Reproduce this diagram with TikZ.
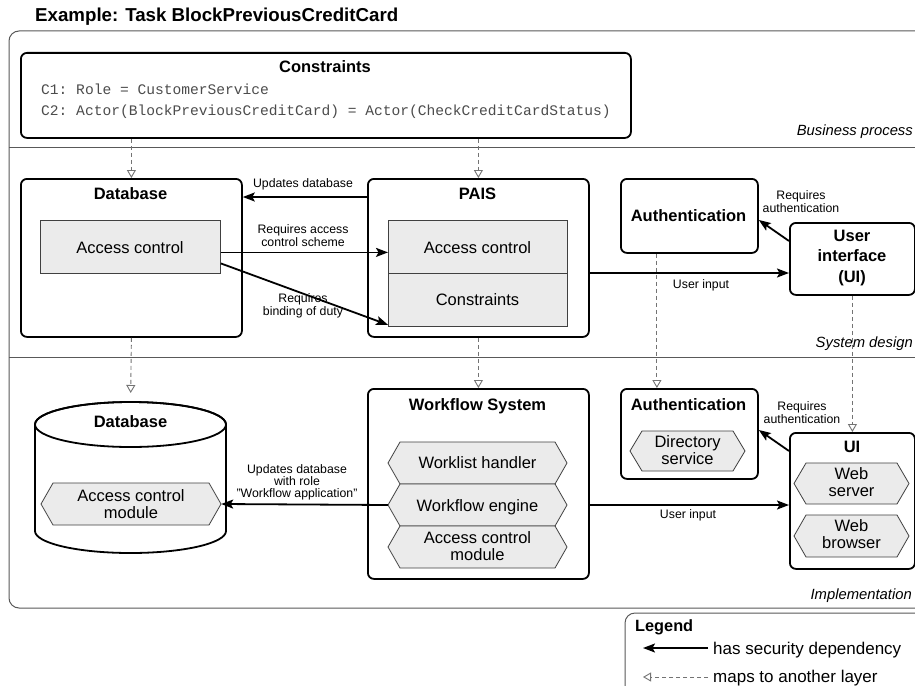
\documentclass[tikz,border=0pt]{standalone}
\usepackage{fontspec}
\setmainfont{Liberation Sans}
\setmonofont{Liberation Mono}
\usetikzlibrary{arrows.meta,calc}
\newcommand{\fTitle}{\fontsize{18.7}{22}\selectfont}
\newcommand{\fBox}{\fontsize{16.5}{16.5}\selectfont}
\newcommand{\fBoxB}{\fontsize{16.5}{20.5}\selectfont\bfseries}
\newcommand{\fSmall}{\fontsize{12.3}{13}\selectfont}
\newcommand{\fSmallT}{\fontsize{12.3}{12}\selectfont}
\newcommand{\fLayer}{\fontsize{14.8}{17}\selectfont\itshape}
\newcommand{\fMono}{\fontsize{14.6}{17}\selectfont\ttfamily}
\newcommand{\fLeg}{\fontsize{17}{20}\selectfont}
\newcommand{\hexa}[6]{%
  \path[hexline] (#2,{(#3+#5)/2}) -- (#2+12,#3) -- (#4-12,#3) -- (#4,{(#3+#5)/2}) -- (#4-12,#5) -- (#2+12,#5) -- cycle;
  \node[hexbox, minimum width={(#4-#2)*1pt}, minimum height={(#5-#3)*1pt}] (#1) at ({(#2+#4)/2},{(#3+#5)/2}) {};}
\begin{document}
\begin{tikzpicture}[x=1pt,y=-1pt,
  box/.style={draw, line width=1.8pt, rounded corners=6pt, fill=white, anchor=north west, inner sep=0pt},
  part/.style={draw=black!75, line width=0.8pt, fill=black!8, anchor=north west, inner sep=0pt},
  hexline/.style={draw=black!75, line width=0.8pt, fill=black!8},
  hexbox/.style={inner sep=0pt, draw=none},
  txt/.style={inner sep=0pt, anchor=base, font=\fBox},
  mtxt/.style={inner sep=0pt, anchor=base, align=center, font=\fBox},
  ttl/.style={inner sep=0pt, anchor=base, font=\fBoxB},
  lbl/.style={inner sep=0pt, anchor=base, align=center, font=\fSmall},
  layer/.style={inner sep=0pt, anchor=base east, font=\fLayer},
  frame/.style={draw=black!65, line width=1pt, rounded corners=10pt},
  dep/.style={-{Stealth[length=12pt,width=9pt,inset=2.5pt]}, line width=1.8pt},
  map/.style={-{Triangle[open,length=8pt,width=9pt,line width=0.9pt]}, draw=black!55, line width=0.9pt, dash pattern=on 4pt off 3pt},
]
\clip (0,0) rectangle (915,685);
\fill[white] (0,0) rectangle (915,685);

% title and frames
\node[inner sep=0pt, anchor=base west, font=\fTitle\bfseries] (title) at (35,22) {Example: Task BlockPreviousCreditCard};
\draw[frame] (9,31) rectangle (940,608);
\draw[draw=black!65, line width=1pt] (9,147) coordinate (s1a) -- (915,147) coordinate (s1b);
\draw[draw=black!65, line width=1pt] (9,357) coordinate (s2a) -- (915,357) coordinate (s2b);
\node[layer] (lbp) at (913,135) {Business process};
\node[layer] (lsd) at (913,347) {System design};
\node[layer] (lim) at (912,599) {Implementation};

% business process
\node[box, minimum width=610pt, minimum height=85pt] (cons) at (20,52) {};
\node[ttl] (consT) at (325,73) {Constraints};
\node[inner sep=0pt, anchor=base west, font=\fMono, text=black!70] (c1) at (41,94) {C1: Role = CustomerService};
\node[inner sep=0pt, anchor=base west, font=\fMono, text=black!70] (c2) at (41,115) {C2: Actor(BlockPreviousCreditCard) = Actor(CheckCreditCardStatus)};

% system design
\node[box, minimum width=221pt, minimum height=158pt] (dbd) at (20,178) {};
\node[ttl] (dbdT) at (130.5,199) {Database};
\node[part, minimum width=180pt, minimum height=53pt] (dbac) at (40,220) {};
\node[txt] (dbacT) at (130,253) {Access control};

\node[box, minimum width=221pt, minimum height=158pt] (pais) at (367,178) {};
\node[ttl] (paisT) at (477.5,199) {PAIS};
\node[part, minimum width=179pt, minimum height=53pt] (paisac) at (388,220) {};
\node[txt] (paisacT) at (477.5,253) {Access control};
\node[part, minimum width=179pt, minimum height=53pt] (paiscons) at (388,273) {};
\node[txt] (paisconsT) at (477.5,305) {Constraints};

\node[box, minimum width=137pt, minimum height=74pt] (authd) at (620,178) {};
\node[ttl] (authdT) at (688.5,221) {Authentication};
\node[box, minimum width=125pt, minimum height=72pt] (uid) at (789,222) {};
\node[inner sep=0pt, align=center, font=\fBoxB] (uidT) at (852,258) {User\\interface\\(UI)};

\draw[dep] ([yshift=-19pt]pais.north west) -- ([yshift=-19pt]dbd.north east);
\node[lbl] (l1) at (303,187) {Updates database};
\draw[dep] ([yshift=-5.5pt]dbac.east) -- ([yshift=-5.5pt]paisac.west);
\node[lbl] (l2) at (303,246) {Requires access\\control scheme};
\draw[dep] ([yshift=-16.5pt]dbac.east) -- ([yshift=2pt]paiscons.south west);
\node[lbl] (l3) at (303,315) {Requires\\binding of duty};
\draw[dep] ([yshift=-19pt]uid.north west) -- ([yshift=-42pt]authd.north east);
\node[lbl] (l4) at (801,212) {Requires\\authentication};
\draw[dep] ([yshift=-95pt]pais.north east) -- ([yshift=-51pt]uid.north west);
\node[lbl] (l5) at (701,288) {User input};

% implementation
\path[fill=white, line width=1.8pt, draw] (35,424.5) -- (35,531) arc[start angle=180, end angle=360, x radius=95.5pt, y radius=22pt] -- (226,424.5) arc[start angle=0, end angle=180, x radius=95.5pt, y radius=22.5pt] -- cycle;
\draw[line width=1.8pt] (130.5,424.5) ellipse [x radius=95.5pt, y radius=22.5pt];
\node[inner sep=0pt, draw=none, minimum width=191pt, minimum height=160pt, anchor=north west] (dbi) at (35,393) {};
\node[ttl] (dbiT) at (130.5,427) {Database};
\hexa{dbh}{41}{483}{221}{525}{}
\node[mtxt] (dbhT) at (131,518) {Access control\\module};

\node[box, minimum width=221pt, minimum height=190pt] (wf) at (367,388) {};
\node[ttl] (wfT) at (477.5,410) {Workflow System};
\hexa{wl}{388}{442}{567}{484}{}
\node[txt] (wlT) at (477.5,468) {Worklist handler};
\hexa{we}{388}{484}{567}{526}{}
\node[txt] (weT) at (477.5,511) {Workflow engine};
\hexa{wa}{388}{526}{567}{568}{}
\node[mtxt] (waT) at (477.5,560) {Access control\\module};

\node[box, minimum width=137pt, minimum height=90pt] (authi) at (620,388) {};
\node[ttl] (authiT) at (688.5,410) {Authentication};
\hexa{ds}{630}{431}{745}{471}{}
\node[mtxt] (dsT) at (687.5,464) {Directory\\service};

\node[box, minimum width=125pt, minimum height=136pt] (uii) at (789,432) {};
\node[ttl] (uiiT) at (852,452) {UI};
\hexa{ws}{794}{463}{909}{504}{}
\node[mtxt] (wsT) at (851.5,496) {Web\\server};
\hexa{wb}{794}{515}{909}{557}{}
\node[mtxt] (wbT) at (851.5,548) {Web\\browser};

\draw[dep] (we.west) -- (dbh.east);
\node[lbl, font=\fSmallT] (l6) at (297,497) {Updates database\\with role\\"Workflow application"};
\draw[dep] ([yshift=-19pt]uii.north west) -- ([yshift=-42pt]authi.north east);
\node[lbl] (l7) at (802,423) {Requires\\authentication};
\draw[dep] ([yshift=-117pt]wf.north east) -- ([yshift=-73pt]uii.north west);
\node[lbl] (l8) at (688,518) {User input};

% mapping arrows
\draw[map] (dbd.north |- cons.south) -- (dbd.north);
\draw[map] (pais.north |- cons.south) -- (pais.north);
\draw[map] (dbd.south) -- (dbi.north);
\draw[map] (pais.south) -- (wf.north);
\draw[map] ([xshift=-32.5pt]authd.south) -- ([xshift=-32.5pt]authi.north);
\draw[map] (uid.south) -- (uii.north);

% legend
\draw[frame, fill=white] (625,613) rectangle (940,700);
\node[inner sep=0pt, anchor=base west, font=\fontsize{16.3}{18}\selectfont\bfseries] (legT) at (635,631) {Legend};
\coordinate (la1) at (708,648);
\coordinate (la2) at (643,648);
\draw[dep] (la1) -- (la2);
\node[inner sep=0pt, anchor=base west, font=\fLeg] (leg1) at (713,654) {has security dependency};
\coordinate (lb1) at (708,677);
\coordinate (lb2) at (643,677);
\draw[map] (lb1) -- (lb2);
\node[inner sep=0pt, anchor=base west, font=\fLeg] (leg2) at (713,682) {maps to another layer};
\end{tikzpicture}
\end{document}
